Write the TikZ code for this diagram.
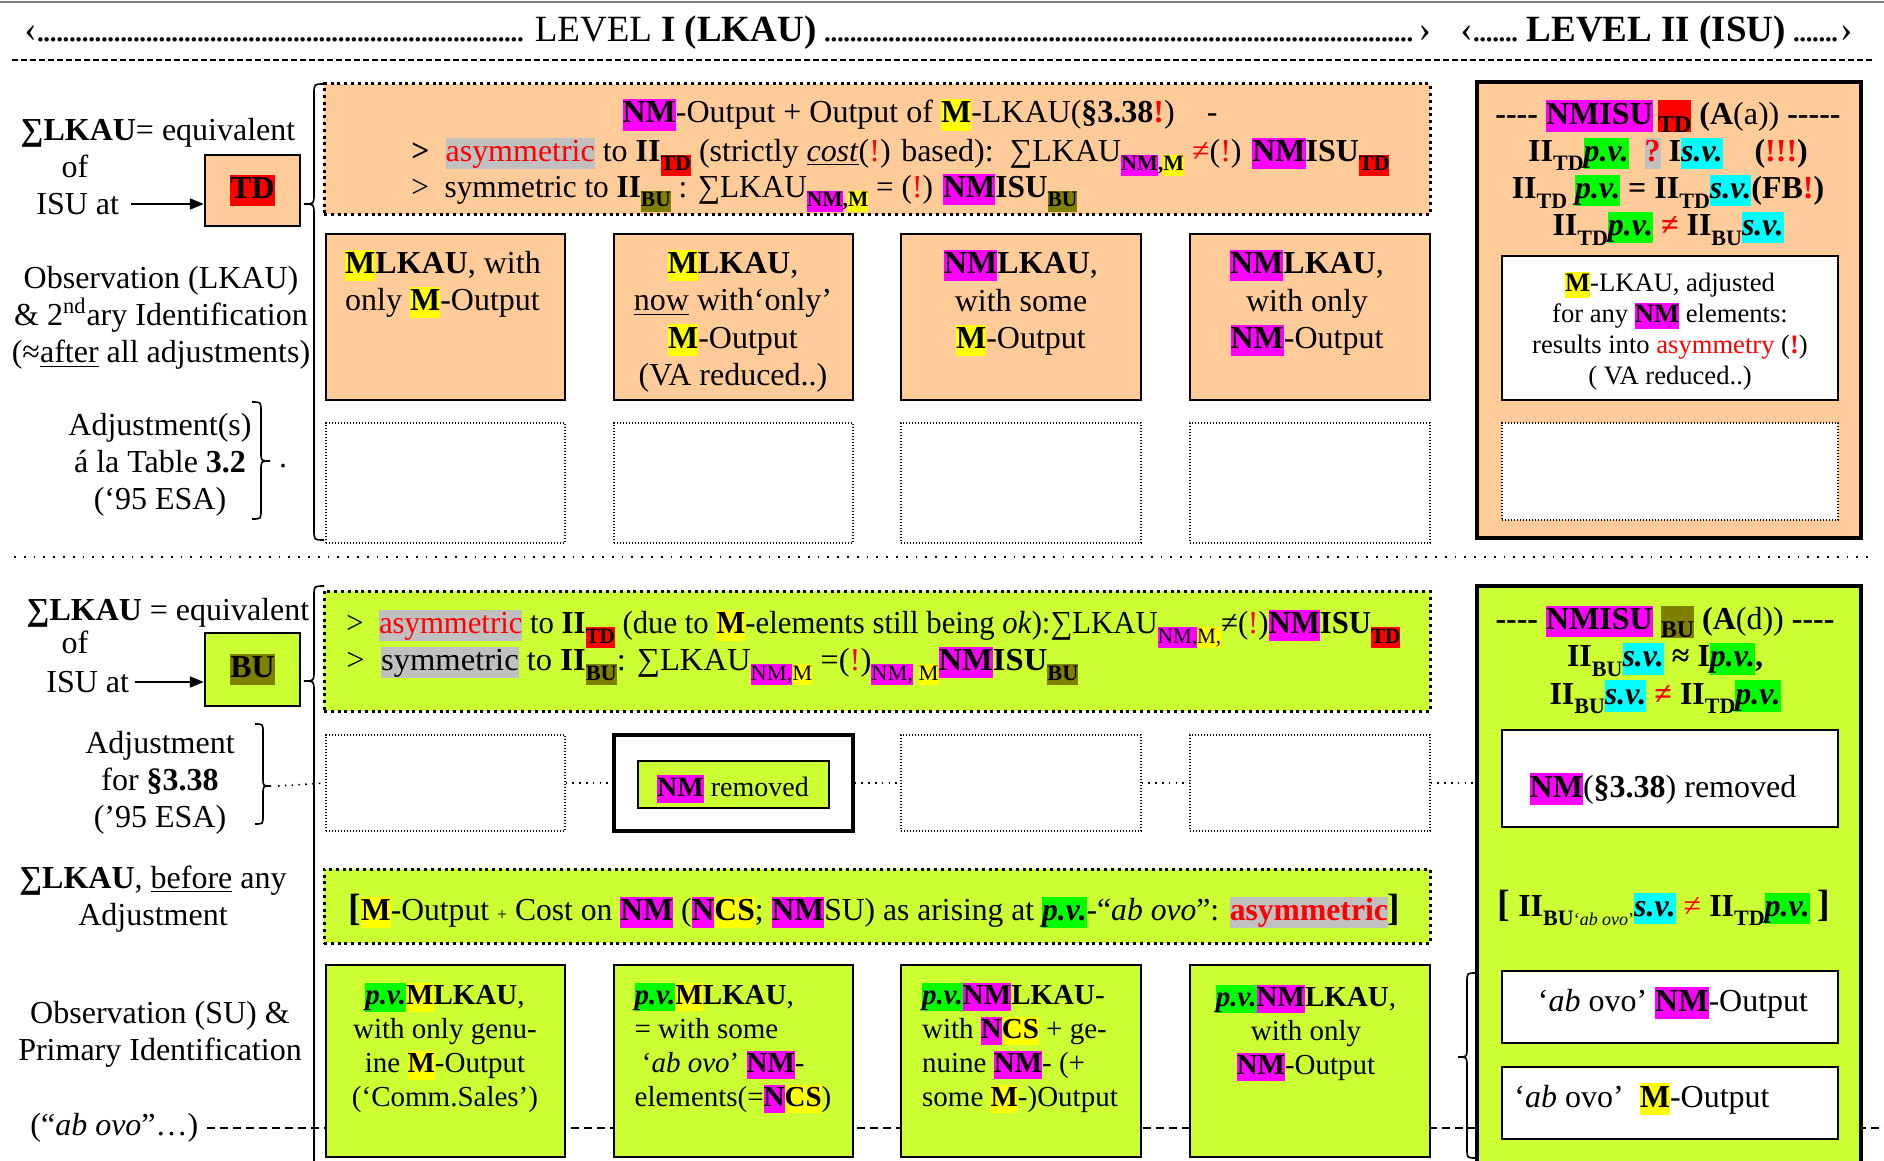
\documentclass[tikz,border=0pt]{standalone}
\usepackage{fontspec}
\setmainfont{Liberation Serif}
\usepackage{graphicx}
\usetikzlibrary{arrows.meta,fit}

\definecolor{peach}{HTML}{FFCC99}
\definecolor{lime}{HTML}{CCFF33}
\definecolor{hmag}{HTML}{FF00FF}
\definecolor{hyel}{HTML}{FFFF00}
\definecolor{hred}{HTML}{FF0000}
\definecolor{holive}{HTML}{808000}
\definecolor{hgreen}{HTML}{00FF00}
\definecolor{hcyan}{HTML}{00FFFF}
\definecolor{hgray}{HTML}{C0C0C0}

% font sizes
\newcommand\fsn{\fontsize{16}{18.6}\selectfont}
\newcommand\fsb{\fontsize{14.5}{17}\selectfont}
\newcommand\fss{\fontsize{13.3}{15.6}\selectfont}
\newcommand\fst{\fontsize{18.5}{21}\selectfont}

% highlighted text, subscripts and recurring tokens
\newcommand\hl[2]{{\setlength{\fboxsep}{0pt}\colorbox{#1}{\rule[-0.24em]{0pt}{0.98em}#2}}}
\newcommand\subx[1]{\raisebox{-0.3em}{\fontsize{11}{11}\selectfont #1}}
\newcommand\rd[1]{\textcolor{red}{#1}}
\newcommand\rex{\textcolor{red}{!}}
\newcommand\bex{\textcolor{red}{\textbf{!}}}
\newcommand\NM{\hl{hmag}{\textbf{NM}}}
\newcommand\Mm{\hl{hyel}{\textbf{M}}}
\newcommand\NCS{\hl{hmag}{\textbf{N}}\hl{hyel}{\textbf{CS}}}
\newcommand\pv{\hl{hgreen}{\textbf{\textit{p.v.}}}}
\newcommand\sv{\hl{hcyan}{\textbf{\textit{s.v.}}}}
\newcommand\TDs{\subx{\hl{hred}{\textbf{TD}}}}
\newcommand\BUs{\subx{\hl{holive}{\textbf{BU}}}}
\newcommand\NMMs{\subx{\textbf{\hl{hmag}{NM},\hl{hyel}{M}}}}
\newcommand\fitw[2]{\resizebox{#1}{\height}{#2}}
\newcommand\dotlead[1]{\leaders\hbox to 3.2pt{\hss.\hss}\hskip #1\relax}
% curly braces: x of the ends, y top, y bottom, y of the tip, amplitude
\newcommand\bracel[5]{\draw[brc] (#1,#2) .. controls (#1-#5,#2) .. (#1-#5,#2+#5) -- (#1-#5,#4-#5) .. controls (#1-#5,#4) .. (#1-2*#5,#4) .. controls (#1-#5,#4) .. (#1-#5,#4+#5) -- (#1-#5,#3-#5) .. controls (#1-#5,#3) .. (#1,#3);}
\newcommand\bracer[5]{\draw[brc] (#1,#2) .. controls (#1+#5,#2) .. (#1+#5,#2+#5) -- (#1+#5,#4-#5) .. controls (#1+#5,#4) .. (#1+2*#5,#4) .. controls (#1+#5,#4) .. (#1+#5,#4+#5) -- (#1+#5,#3-#5) .. controls (#1+#5,#3) .. (#1,#3);}

\begin{document}
\begin{tikzpicture}[x=0.5pt,y=-0.5pt,
  every node/.style={inner sep=0pt,font=\fsn},
  pbox/.style={draw,line width=1.2pt,fill=peach,inner sep=0pt},
  lbox/.style={draw,line width=1.2pt,fill=lime,inner sep=0pt},
  wbox/.style={draw,line width=1.1pt,fill=white,inner sep=0pt},
  heavy/.style={draw,line width=2.4pt,inner sep=0pt},
  bigdots/.style={draw,line width=1.5pt,dash pattern=on 1.5pt off 1.9pt,inner sep=0pt},
  thindots/.style={draw,line width=0.6pt,dash pattern=on 0.6pt off 0.9pt,fill=white,inner sep=0pt},
  conn/.style={line width=0.8pt,dash pattern=on 0.8pt off 2.6pt},
  arr/.style={line width=1pt,-{Triangle[length=7pt,width=5.5pt]}},
  brc/.style={line width=0.8pt},
  dashline/.style={line width=0.9pt,dash pattern=on 4pt off 2.5pt}]
\useasboundingbox (0,0) rectangle (1884,1161);
\clip (0,0) rectangle (1884,1161);
\fill[white] (0,0) rectangle (1884,1161);

% ---------- header ----------
\draw[line width=1.2pt,gray] (0,2) -- (1884,2);
\node[anchor=west,font=\fst] (title1) at (24,33) {‹\dotlead{246pt}\,LEVEL \textbf{I (LKAU)}\,\dotlead{298pt}›};
\node[anchor=west,font=\fst] (title2) at (1460,33) {‹\dotlead{24pt}\,\textbf{LEVEL II (ISU)}\,\dotlead{24pt}›};
\draw[line width=0.6pt,dash pattern=on 3pt off 1.5pt] (12,60) -- (1874,60);
\draw[line width=0.9pt,dash pattern=on 0.9pt off 4pt] (14,557) -- (1870,557);

% ---------- upper block (TD) ----------
\node (lk1) at (158,133) {\textbf{∑LKAU}= equivalent};
\node (of1) at (75,166) {of};
\node[anchor=west] (isu1) at (36,204) {ISU at};
\node[pbox,fit={(205,155) (300,226)}] (td) {};
\node (tdt) at (td.center) {\hl{hred}{\textbf{TD}}};
\draw[arr] ([xshift=6pt]isu1.east) -- (isu1.east -| td.west);
\node[align=center] (obs1) at (161,318) {Observation (LKAU)\\ \& 2\textsuperscript{nd}ary Identification\\ (≈\underline{after} all adjustments)};
\node[align=center] (adj1) at (160,465) {Adjustment(s)\\ á la Table \textbf{3.2}\\ (‘95 ESA)};
\node (dot1) at (283,466) {.};
\bracer{252}{402}{519}{461}{9}
\bracel{324}{84}{540}{204}{10}

\node[bigdots,fill=peach,fit={(324,84) (1430,214)}] (topbox) {};
\node (t1) at (920,115) {\NM-Output + Output of \Mm-LKAU(\textbf{§3.38}\bex)\quad -};
\node[anchor=west] (t2) at (411,157) {\fitw{489pt}{\textbf{>}\enspace \hl{hgray}{\rd{asymmetric}} to \textbf{II}\TDs{} (strictly \underline{\textit{cost}}(\rex) based):\enspace ∑LKAU\NMMs{} \rd{≠}(\rex) \NM\textbf{ISU}\TDs}};
\node[anchor=west] (t3) at (411,193) {\fitw{333pt}{>\enspace symmetric to \textbf{II}\BUs{} : ∑LKAU\NMMs{} = (\rex) \NM\textbf{ISU}\BUs}};

\node[pbox,fit={(326,234) (565,400)}] (u1) {};
\node[pbox,fit={(614,234) (853,400)}] (u2) {};
\node[pbox,fit={(901,234) (1141,400)}] (u3) {};
\node[pbox,fit={(1190,234) (1430,400)}] (u4) {};
\node[align=left] (u1t) at (443,284) {\Mm\textbf{LKAU}, with\\ only \Mm-Output};
\node[align=center] (u2t) at (733,321) {\Mm\textbf{LKAU},\\ \underline{now} with‘only’\\ \Mm-Output\\ (VA reduced..)};
\node[align=center] (u3t) at (1021,303) {\NM\textbf{LKAU},\\ with some\\ \Mm-Output};
\node[align=center] (u4t) at (1307,303) {\NM\textbf{LKAU},\\ with only\\ \NM-Output};

\node[thindots,fit={(326,423) (565,543)}] (e1) {};
\node[thindots,fit={(614,423) (853,543)}] (e2) {};
\node[thindots,fit={(901,423) (1141,543)}] (e3) {};
\node[thindots,fit={(1190,423) (1430,543)}] (e4) {};

\node[heavy,fill=peach,fit={(1477,82) (1861,538)}] (r1) {};
\node[align=center,font=\fsn\bfseries] (r1t) at (1668,173) {-{}-{}-{}- \hl{hmag}{NMISU}\,\hl{hred}{\raisebox{-0.25em}{\fontsize{12}{12}\selectfont TD}} (A\textmd{(a))} -{}-{}-{}-{}-\\ II\subx{TD}\pv\ \ \hl{hgray}{\rd{?}} I\sv\quad (\rd{!!!})\\ II\subx{TD} \pv{} = II\subx{TD}\sv(FB\rd{!})\\ II\subx{TD}\pv{} \rd{≠} II\subx{BU}\sv};
\node[wbox,fit={(1502,256) (1838,400)}] (r1w) {};
\node[align=center,font=\fss] (r1wt) at (1670,331) {\Mm-LKAU, adjusted\\ for any \NM{} elements:\\ results into \rd{asymmetry} (\bex)\\ ( VA reduced..)};
\node[thindots,fit={(1502,423) (1838,520)}] (r1e) {};

% ---------- lower block (BU) ----------
\node (lk2) at (168,613) {\textbf{∑LKAU} = equivalent};
\node (of2) at (75,642) {of};
\node[anchor=west] (isu2) at (46,682) {ISU at};
\node[lbox,fit={(205,633) (300,706)}] (bu) {};
\node (butt) at (bu.center) {\hl{holive}{\textbf{BU}}};
\draw[arr] ([xshift=3pt]isu2.east) -- (isu2.east -| bu.west);
\node[align=center] (adj2) at (160,783) {Adjustment\\ for \textbf{§3.38}\\ (’95 ESA)};
\bracer{255}{724}{824}{786}{8}
\coordinate (tip2) at (278,786);
\node[align=center] (bef) at (153,899) {\textbf{∑LKAU}, \underline{before} any\\ Adjustment};
\node[align=center] (obs2) at (160,1034) {Observation (SU) \&\\ Primary Identification};
\node[anchor=west] (abovo) at (30,1128) {(“\textit{ab ovo}”…)};
\coordinate (dashend) at (1884,1128);
\draw[dashline] ([xshift=4pt]abovo.east) -- (dashend);
\bracel{324}{586}{1185}{681}{10}

\node[bigdots,fill=lime,fit={(324,591) (1430,711)}] (lb1) {};
\node[anchor=west] (l1) at (346,629) {\fitw{527pt}{>\enspace \hl{hgray}{\rd{asymmetric}} to \textbf{II}\TDs{} (due to \Mm-elements still being \textit{ok}):∑LKAU\subx{\hl{hmag}{NM,}\hl{hyel}{M,}}≠(\rex)\NM\textbf{ISU}\TDs}};
\node[anchor=west] (l2) at (346,666) {\fitw{366pt}{>\enspace \hl{hgray}{symmetric} to \textbf{II}\BUs: ∑LKAU\subx{\hl{hmag}{NM,}\hl{hyel}{M}} =(\rex)\subx{\hl{hmag}{NM,} \hl{hyel}{M}}\NM\textbf{ISU}\BUs}};

\node[thindots,fit={(326,735) (565,831)}] (m1) {};
\node[wbox,line width=1.6pt,fit={(614,735) (853,831)}] (m2) {};
\node[lbox,line width=1pt,fit={(638,761) (829,808)}] (m2in) {};
\node (nmr) at (733,789) {\fontsize{14}{16}\selectfont\NM{} removed};
\node[thindots,fit={(901,735) (1141,831)}] (m3) {};
\node[thindots,fit={(1190,735) (1430,831)}] (m4) {};

\node[bigdots,fill=lime,fit={(324,869) (1430,943)}] (lb2) {};
\node[anchor=west] (l3) at (348,911) {\fitw{526pt}{{\fontsize{19}{20}\selectfont\textbf{[}}\Mm-Output {\small+} Cost on \NM{} (\NCS; \NM SU) as arising at \pv-“\textit{ab ovo}”: \hl{hgray}{\rd{\textbf{asymmetric}}}{\fontsize{19}{20}\selectfont\textbf{]}}}};

\node[lbox,fit={(326,965) (565,1157)}] (d1) {};
\node[lbox,fit={(614,965) (853,1157)}] (d2) {};
\node[lbox,fit={(901,965) (1141,1157)}] (d3) {};
\node[lbox,fit={(1190,965) (1430,1157)}] (d4) {};
\node[align=center,font=\fsb] (d1t) at (445,1048) {\pv\Mm\textbf{LKAU},\\ with only genu-\\ ine \Mm-Output\\ (‘Comm.Sales’)};
\node[align=left,font=\fsb] (d2t) at (733,1048) {\pv\Mm\textbf{LKAU},\\ = with some\\ \ ‘\textit{ab ovo}’ \NM-\\ elements(=\NCS)};
\node[align=left,font=\fsb] (d3t) at (1020,1048) {\pv\NM\textbf{LKAU}-\\ with \NCS{} + ge-\\ nuine \NM- (+\\ some \Mm-)Output};
\node[align=center,font=\fsb] (d4t) at (1306,1033) {\pv\NM\textbf{LKAU},\\ with only\\ \NM-Output};

\node[heavy,fill=lime,fit={(1477,586) (1861,1185)}] (r2) {};
\node[align=center,font=\fsn\bfseries] (r2t) at (1665,660) {-{}-{}-{}- \hl{hmag}{NMISU} \hl{holive}{\raisebox{-0.25em}{\fontsize{12}{12}\selectfont BU}} (A\textmd{(d))} -{}-{}-{}-\\ II\subx{BU}\sv{} ≈ I\pv,\\ II\subx{BU}\sv{} \rd{≠} II\subx{TD}\pv};
\node[wbox,fit={(1502,730) (1838,827)}] (r2w1) {};
\node (r2w1t) at (1663,789) {\NM(\textbf{§3.38}) removed};
\node (r2m) at (1664,908) {{\fontsize{19}{20}\selectfont\textbf{[}} \textbf{II}\subx{\textbf{BU}{\fontsize{9}{9}\selectfont‘\textit{ab ovo}’}}\sv{} \rd{≠} \textbf{II}\subx{\textbf{TD}}\pv{} {\fontsize{19}{20}\selectfont\textbf{]}}};
\node[wbox,fit={(1502,971) (1838,1043)}] (r2w2) {};
\node (r2w2t) at (1673,1003) {‘\textit{ab} ovo’ \NM-Output};
\node[wbox,fit={(1502,1067) (1838,1139)}] (r2w3) {};
\node (r2w3t) at (1642,1099) {‘\textit{ab} ovo’\ \ \Mm-Output};
\bracel{1476}{973}{1158}{1057}{9}

% dotted links along the adjustment row
\draw[conn] (tip2) -- (m1.west);
\draw[conn] (m1.east) -- (m2.west);
\draw[conn] (m2.east) -- (m3.west);
\draw[conn] (m3.east) -- (m4.west);
\draw[conn] (m4.east) -- (m4.east -| r2.west);
\end{tikzpicture}
\end{document}
